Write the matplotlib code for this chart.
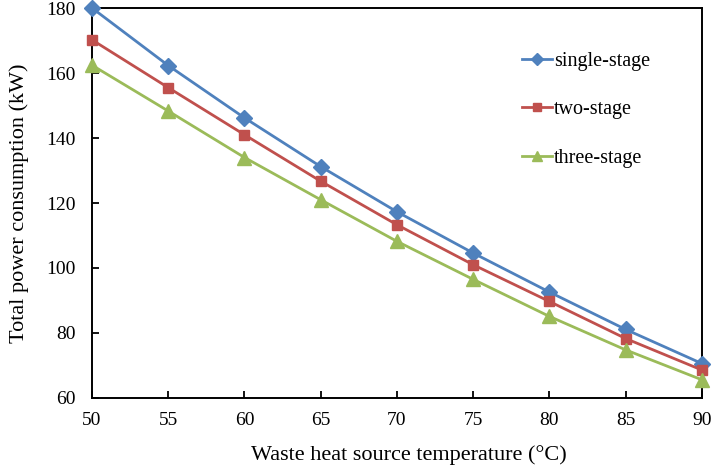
import matplotlib
matplotlib.use('Agg')
import matplotlib.pyplot as plt

plt.rcParams['font.family'] = ['Liberation Serif', 'DejaVu Serif']

temp = [50, 55, 60, 65, 70, 75, 80, 85, 90]
single = [180.0, 162.3, 146.2, 131.2, 117.3, 104.6, 92.6, 81.1, 70.6]
two = [170.2, 155.5, 141.0, 126.7, 113.3, 101.0, 89.7, 78.3, 68.6]
three = [162.4, 148.3, 134.0, 121.0, 108.2, 96.5, 85.1, 74.8, 65.6]

fig = plt.figure(figsize=(7.15, 4.71), dpi=100)
ax = fig.add_axes([0.1287, 0.155, 0.853, 0.828])

ax.plot(temp, single, color='#4F81BD', marker='D', markersize=8, lw=2, label='single-stage', clip_on=False, zorder=3)
ax.plot(temp, two, color='#C0504D', marker='s', markersize=7.5, lw=2, label='two-stage', clip_on=False, zorder=3)
ax.plot(temp, three, color='#9BBB59', marker='^', markersize=9.5, lw=2, label='three-stage', clip_on=False, zorder=3)

ax.set_xlim(50, 90)
ax.set_ylim(60, 180)
ax.set_xticks(range(50, 91, 5))
ax.set_yticks(range(60, 181, 20))
ax.tick_params(direction='in', labelsize=14, length=5, width=1.3)
ax.tick_params(axis='x', pad=10)
ax.tick_params(axis='y', pad=12)
for s in ax.spines.values():
    s.set_linewidth(1.4)

ax.set_xlabel('Waste heat source temperature (°C)', fontsize=16, labelpad=7)
ax.set_ylabel('Total power consumption (kW)', fontsize=16, labelpad=12)
ax.xaxis.set_label_coords(0.52, -0.12)

ax.legend(loc='upper left', bbox_to_anchor=(0.705, 0.887), borderaxespad=0, borderpad=0,
          frameon=False, fontsize=14.5, labelspacing=1.45, handlelength=1.5,
          handletextpad=0.1, markerscale=0.75)

fig.savefig('out.png', dpi=100)
